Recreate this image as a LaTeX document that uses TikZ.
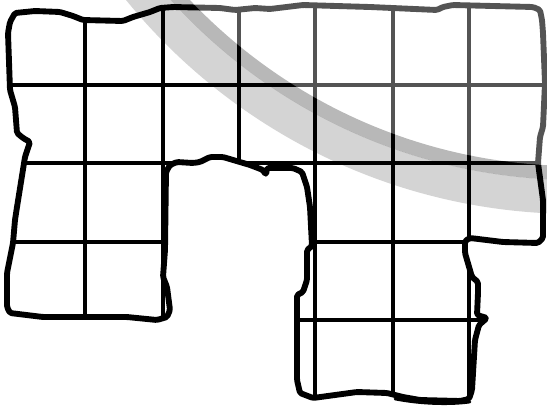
\documentclass[tikz,border=0pt]{standalone}
\begin{document}
\begin{tikzpicture}[x=0.75pt,y=-0.75pt,
  gridline/.style={line width=2.7pt,black},
  outline/.style={line width=4.4pt,black,line join=round,line cap=round,rounded corners=1.2pt}]
\useasboundingbox (0,0) rectangle (547,408);
\fill[white] (0,0) rectangle (547,408);
% grid, clipped to the shape
\begin{scope}
\clip (10,22) -- (15,13) -- (35,11) -- (60,12) -- (73,16) -- (83,20) -- (123,21) -- (133,17) -- (150,12) -- (160,8) -- (173,7) -- (220,8) -- (235,10) -- (255,8) -- (270,9) -- (303,5) -- (370,7) -- (437,10) -- (443,7) -- (453,5) -- (533,7) -- (540,10) -- (542,20) -- (543,33) -- (545,83) -- (543,127) -- (540,137) -- (538,163) -- (543,200) -- (543,238) -- (538,243) -- (503,242) -- (470,238) -- (465,241) -- (465,253) -- (472,277) -- (478,282) -- (478,293) -- (477,315) -- (487,318) -- (479,325) -- (475,340) -- (472,390) -- (469,399) -- (460,401) -- (420,400) -- (403,397) -- (387,393) -- (357,392) -- (313,398) -- (300,393) -- (297,380) -- (297,295) -- (303,292) -- (307,280) -- (307,250) -- (312,246) -- (310,207) -- (307,187) -- (302,172) -- (293,168) -- (267,168) -- (266,175) -- (263,170) -- (250,165) -- (223,157) -- (210,157) -- (200,162) -- (193,163) -- (177,162) -- (170,165) -- (166,172) -- (165,250) -- (163,277) -- (167,287) -- (170,310) -- (167,317) -- (157,320) -- (127,317) -- (43,317) -- (10,313) -- (7,307) -- (7,273) -- (13,243) -- (15,220) -- (17,207) -- (25,157) -- (30,142) -- (23,138) -- (17,133) -- (15,107) -- (10,90) -- (8,33) -- cycle;
\foreach \gx in {85,163,239,315,393,469} \draw[gridline] (\gx,0) -- (\gx,408);
\foreach \gy in {85,163,242,320} \draw[gridline] (0,\gy) -- (547,\gy);
\end{scope}
% outline
\draw[outline] (10,22) -- (15,13) -- (35,11) -- (60,12) -- (73,16) -- (83,20) -- (123,21) -- (133,17) -- (150,12) -- (160,8) -- (173,7) -- (220,8) -- (235,10) -- (255,8) -- (270,9) -- (303,5) -- (370,7) -- (437,10) -- (443,7) -- (453,5) -- (533,7) -- (540,10) -- (542,20) -- (543,33) -- (545,83) -- (543,127) -- (540,137) -- (538,163) -- (543,200) -- (543,238) -- (538,243) -- (503,242) -- (470,238) -- (465,241) -- (465,253) -- (472,277) -- (478,282) -- (478,293) -- (477,315) -- (487,318) -- (479,325) -- (475,340) -- (472,390) -- (469,399) -- (460,401) -- (420,400) -- (403,397) -- (387,393) -- (357,392) -- (313,398) -- (300,393) -- (297,380) -- (297,295) -- (303,292) -- (307,280) -- (307,250) -- (312,246) -- (310,207) -- (307,187) -- (302,172) -- (293,168) -- (267,168) -- (266,175) -- (263,170) -- (250,165) -- (223,157) -- (210,157) -- (200,162) -- (193,163) -- (177,162) -- (170,165) -- (166,172) -- (165,250) -- (163,277) -- (167,287) -- (170,310) -- (167,317) -- (157,320) -- (127,317) -- (43,317) -- (10,313) -- (7,307) -- (7,273) -- (13,243) -- (15,220) -- (17,207) -- (25,157) -- (30,142) -- (23,138) -- (17,133) -- (15,107) -- (10,90) -- (8,33) -- cycle;
% sketchy double line at the bottom right
\draw[line width=2pt,black,line cap=round] (395,399) .. controls (420,404) and (450,405) .. (470,402);
% translucent band and fog
\begin{scope}
\clip (0,0) rectangle (547,408);
\coordinate (c) at (576,-366);
\fill[white,opacity=0.33] (c) circle[radius=399pt];
\fill[black,opacity=0.28,even odd rule] (c) circle[radius=409.5pt] (c) circle[radius=399pt];
\fill[black,opacity=0.17,even odd rule] (c) circle[radius=435pt] (c) circle[radius=409.5pt];
\end{scope}
\end{tikzpicture}
\end{document}
